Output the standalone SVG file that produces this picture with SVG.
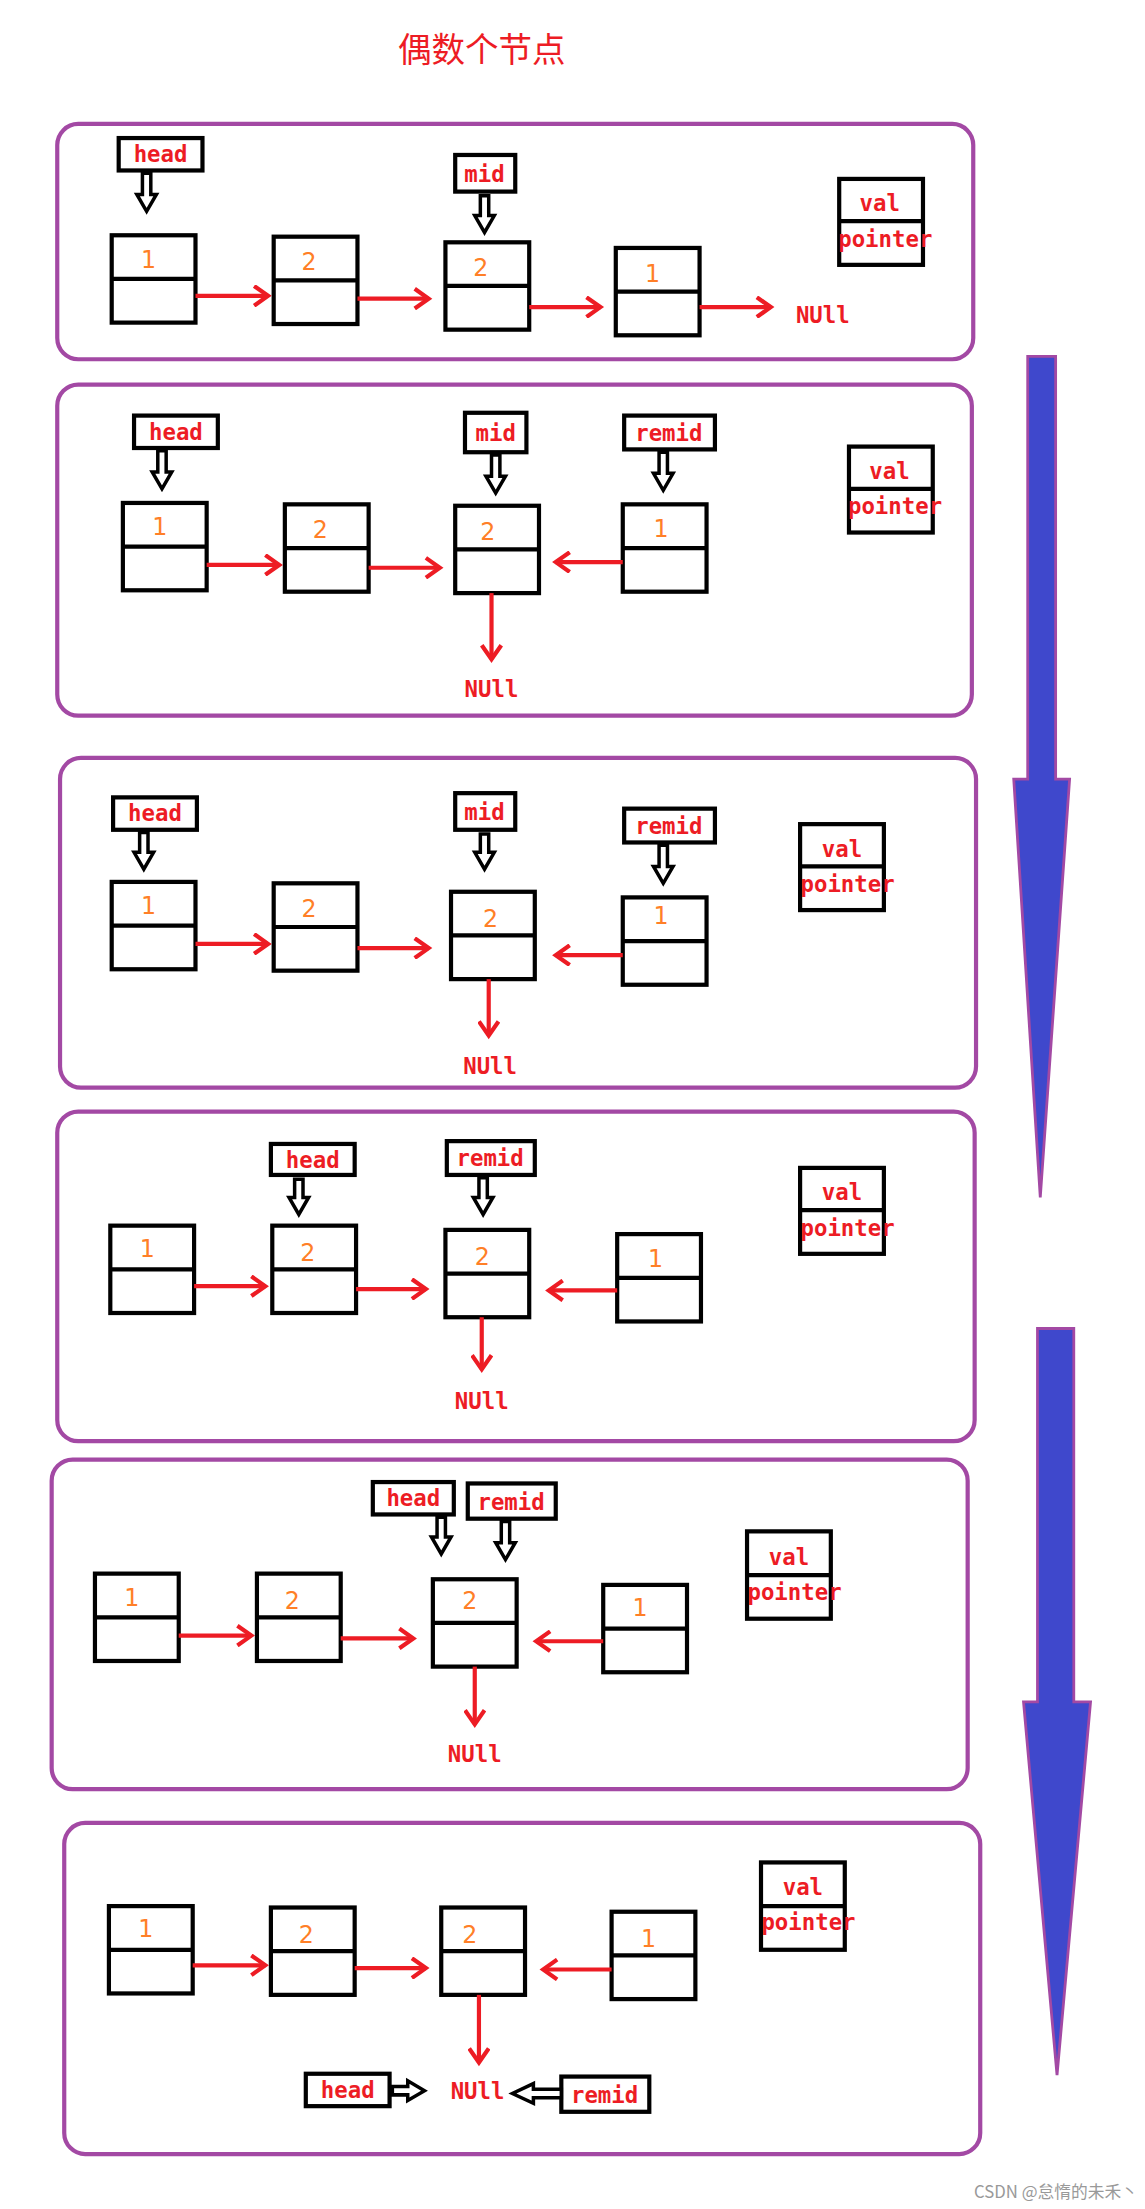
<svg xmlns="http://www.w3.org/2000/svg" width="1145" height="2209" viewBox="0 0 1145 2209">
<defs>
<marker id="ah" markerWidth="16" markerHeight="16" refX="13" refY="8" orient="auto" markerUnits="userSpaceOnUse"><path d="M3,1 L13,8 L3,15" fill="none" stroke="#ed1c24" stroke-width="3"/></marker>
<style>
.pn{fill:none;stroke:#a349a4;stroke-width:3}
.nd{fill:#fff;stroke:#000;stroke-width:3}
.dv{stroke:#000;stroke-width:3}
.lb{fill:#fff;stroke:#000;stroke-width:3}
.ra{stroke:#ed1c24;stroke-width:3;fill:none;marker-end:url(#ah)}
.ha{fill:#fff;stroke:#000;stroke-width:2.5}
.dg{fill:#ff7f27;font-family:"DejaVu Sans",sans-serif;font-size:17px}
.tx{fill:#ed1c24;font-family:"DejaVu Sans Mono",monospace;font-weight:bold;font-size:16px}
.bl{fill:#3f48cc;stroke:#a349a4;stroke-width:2}
</style>
</defs>
<rect width="1145" height="2209" fill="#fff"/>
<g transform="scale(1.39634,1.4088)">
<text x="345" y="44" text-anchor="middle" font-family="Noto Sans CJK SC,sans-serif" font-size="24" fill="#ed1c24">偶数个节点</text>
<g id="panels">
<rect class="pn" x="41" y="88" width="656" height="167" rx="15"/>
<rect class="pn" x="41" y="273" width="655" height="235" rx="15"/>
<rect class="pn" x="43" y="538" width="656" height="234" rx="15"/>
<rect class="pn" x="41" y="789" width="657" height="234" rx="15"/>
<rect class="pn" x="37" y="1036" width="656" height="234" rx="15"/>
<rect class="pn" x="46" y="1294" width="656" height="235" rx="15"/>
</g>
<g id="bigarrows">
<polygon class="bl" points="736,253 756,253 756,553 766,553 745,850 726,553 736,553"/>
<polygon class="bl" points="743,943 769,943 769,1208 781,1208 757,1473 733,1208 743,1208"/>
</g>
<g id="nodes">
<!-- P1 -->
<g id="p1n1"><rect class="nd" x="80" y="167" width="60" height="62"/><line class="dv" x1="80" y1="198" x2="140" y2="198"/><text class="dg" x="101" y="190">1</text></g>
<g id="p1n2"><rect class="nd" x="196" y="168" width="60" height="62"/><line class="dv" x1="196" y1="199" x2="256" y2="199"/><text class="dg" x="216" y="192">2</text></g>
<g id="p1n3"><rect class="nd" x="319" y="172" width="60" height="62"/><line class="dv" x1="319" y1="203" x2="379" y2="203"/><text class="dg" x="339" y="196">2</text></g>
<g id="p1n4"><rect class="nd" x="441" y="176" width="60" height="62"/><line class="dv" x1="441" y1="207" x2="501" y2="207"/><text class="dg" x="462" y="200">1</text></g>
<g id="p1leg"><rect class="nd" x="601" y="127" width="60" height="61"/><line class="dv" x1="601" y1="157" x2="661" y2="157"/><text class="tx" x="630" y="150" text-anchor="middle">val</text><text class="tx" x="634" y="175" text-anchor="middle">pointer</text></g>
<g id="p1head"><rect class="lb" x="85" y="98" width="60" height="23"/><text class="tx" x="115" y="115" text-anchor="middle">head</text></g>
<g id="p1mid"><rect class="lb" x="326" y="110" width="43" height="26"/><text class="tx" x="347" y="129" text-anchor="middle">mid</text></g>
<text class="tx" x="570" y="229">NUll</text>
<!-- P2 -->
<g id="p2n1"><rect class="nd" x="88" y="357" width="60" height="62"/><line class="dv" x1="88" y1="388" x2="148" y2="388"/><text class="dg" x="109" y="380">1</text></g>
<g id="p2n2"><rect class="nd" x="204" y="358" width="60" height="62"/><line class="dv" x1="204" y1="389" x2="264" y2="389"/><text class="dg" x="224" y="382">2</text></g>
<g id="p2n3"><rect class="nd" x="326" y="359" width="60" height="62"/><line class="dv" x1="326" y1="390" x2="386" y2="390"/><text class="dg" x="344" y="383">2</text></g>
<g id="p2n4"><rect class="nd" x="446" y="358" width="60" height="62"/><line class="dv" x1="446" y1="389" x2="506" y2="389"/><text class="dg" x="468" y="381">1</text></g>
<g id="p2leg"><rect class="nd" x="608" y="317" width="60" height="61"/><line class="dv" x1="608" y1="347" x2="668" y2="347"/><text class="tx" x="637" y="340" text-anchor="middle">val</text><text class="tx" x="641" y="365" text-anchor="middle">pointer</text></g>
<g id="p2head"><rect class="lb" x="96" y="295" width="60" height="23"/><text class="tx" x="126" y="312" text-anchor="middle">head</text></g>
<g id="p2mid"><rect class="lb" x="333" y="293" width="44" height="28"/><text class="tx" x="355" y="313" text-anchor="middle">mid</text></g>
<g id="p2remid"><rect class="lb" x="447" y="295" width="65" height="24"/><text class="tx" x="479" y="313" text-anchor="middle">remid</text></g>
<text class="tx" x="352" y="495" text-anchor="middle">NUll</text>
<!-- P3 -->
<g id="p3n1"><rect class="nd" x="80" y="626" width="60" height="62"/><line class="dv" x1="80" y1="657" x2="140" y2="657"/><text class="dg" x="101" y="649">1</text></g>
<g id="p3n2"><rect class="nd" x="196" y="627" width="60" height="62"/><line class="dv" x1="196" y1="658" x2="256" y2="658"/><text class="dg" x="216" y="651">2</text></g>
<g id="p3n3"><rect class="nd" x="323" y="633" width="60" height="62"/><line class="dv" x1="323" y1="664" x2="383" y2="664"/><text class="dg" x="346" y="658">2</text></g>
<g id="p3n4"><rect class="nd" x="446" y="637" width="60" height="62"/><line class="dv" x1="446" y1="668" x2="506" y2="668"/><text class="dg" x="468" y="656">1</text></g>
<g id="p3leg"><rect class="nd" x="573" y="585" width="60" height="61"/><line class="dv" x1="573" y1="615" x2="633" y2="615"/><text class="tx" x="603" y="608" text-anchor="middle">val</text><text class="tx" x="607" y="633" text-anchor="middle">pointer</text></g>
<g id="p3head"><rect class="lb" x="81" y="566" width="60" height="23"/><text class="tx" x="111" y="583" text-anchor="middle">head</text></g>
<g id="p3mid"><rect class="lb" x="326" y="563" width="43" height="26"/><text class="tx" x="347" y="582" text-anchor="middle">mid</text></g>
<g id="p3remid"><rect class="lb" x="447" y="574" width="65" height="24"/><text class="tx" x="479" y="592" text-anchor="middle">remid</text></g>
<text class="tx" x="351" y="762" text-anchor="middle">NUll</text>
<!-- P4 -->
<g id="p4n1"><rect class="nd" x="79" y="870" width="60" height="62"/><line class="dv" x1="79" y1="901" x2="139" y2="901"/><text class="dg" x="100" y="892">1</text></g>
<g id="p4n2"><rect class="nd" x="195" y="870" width="60" height="62"/><line class="dv" x1="195" y1="901" x2="255" y2="901"/><text class="dg" x="215" y="895">2</text></g>
<g id="p4n3"><rect class="nd" x="319" y="873" width="60" height="62"/><line class="dv" x1="319" y1="904" x2="379" y2="904"/><text class="dg" x="340" y="898">2</text></g>
<g id="p4n4"><rect class="nd" x="442" y="876" width="60" height="62"/><line class="dv" x1="442" y1="907" x2="502" y2="907"/><text class="dg" x="464" y="899">1</text></g>
<g id="p4leg"><rect class="nd" x="573" y="829" width="60" height="61"/><line class="dv" x1="573" y1="859" x2="633" y2="859"/><text class="tx" x="603" y="852" text-anchor="middle">val</text><text class="tx" x="607" y="877" text-anchor="middle">pointer</text></g>
<g id="p4head"><rect class="lb" x="194" y="812" width="60" height="22"/><text class="tx" x="224" y="829" text-anchor="middle">head</text></g>
<g id="p4remid"><rect class="lb" x="320" y="810" width="63" height="24"/><text class="tx" x="351" y="828" text-anchor="middle">remid</text></g>
<text class="tx" x="345" y="1000" text-anchor="middle">NUll</text>
<!-- P5 -->
<g id="p5n1"><rect class="nd" x="68" y="1117" width="60" height="62"/><line class="dv" x1="68" y1="1148" x2="128" y2="1148"/><text class="dg" x="89" y="1140">1</text></g>
<g id="p5n2"><rect class="nd" x="184" y="1117" width="60" height="62"/><line class="dv" x1="184" y1="1148" x2="244" y2="1148"/><text class="dg" x="204" y="1142">2</text></g>
<g id="p5n3"><rect class="nd" x="310" y="1121" width="60" height="62"/><line class="dv" x1="310" y1="1152" x2="370" y2="1152"/><text class="dg" x="331" y="1142">2</text></g>
<g id="p5n4"><rect class="nd" x="432" y="1125" width="60" height="62"/><line class="dv" x1="432" y1="1156" x2="492" y2="1156"/><text class="dg" x="453" y="1147">1</text></g>
<g id="p5leg"><rect class="nd" x="535" y="1087" width="60" height="62"/><line class="dv" x1="535" y1="1118" x2="595" y2="1118"/><text class="tx" x="565" y="1111" text-anchor="middle">val</text><text class="tx" x="569" y="1136" text-anchor="middle">pointer</text></g>
<g id="p5head"><rect class="lb" x="267" y="1052" width="58" height="23"/><text class="tx" x="296" y="1069" text-anchor="middle">head</text></g>
<g id="p5remid"><rect class="lb" x="335" y="1053" width="63" height="25"/><text class="tx" x="366" y="1072" text-anchor="middle">remid</text></g>
<text class="tx" x="340" y="1251" text-anchor="middle">NUll</text>
<!-- P6 -->
<g id="p6n1"><rect class="nd" x="78" y="1353" width="60" height="62"/><line class="dv" x1="78" y1="1384" x2="138" y2="1384"/><text class="dg" x="99" y="1375">1</text></g>
<g id="p6n2"><rect class="nd" x="194" y="1354" width="60" height="62"/><line class="dv" x1="194" y1="1385" x2="254" y2="1385"/><text class="dg" x="214" y="1379">2</text></g>
<g id="p6n3"><rect class="nd" x="316" y="1354" width="60" height="62"/><line class="dv" x1="316" y1="1385" x2="376" y2="1385"/><text class="dg" x="331" y="1379">2</text></g>
<g id="p6n4"><rect class="nd" x="438" y="1357" width="60" height="62"/><line class="dv" x1="438" y1="1388" x2="498" y2="1388"/><text class="dg" x="459" y="1382">1</text></g>
<g id="p6leg"><rect class="nd" x="545" y="1322" width="60" height="62"/><line class="dv" x1="545" y1="1353" x2="605" y2="1353"/><text class="tx" x="575" y="1345" text-anchor="middle">val</text><text class="tx" x="579" y="1370" text-anchor="middle">pointer</text></g>
<g id="p6head"><rect class="lb" x="219" y="1472" width="60" height="23"/><text class="tx" x="249" y="1489" text-anchor="middle">head</text></g>
<g id="p6remid"><rect class="lb" x="402" y="1474" width="63" height="25"/><text class="tx" x="433" y="1493" text-anchor="middle">remid</text></g>
<text class="tx" x="342" y="1490" text-anchor="middle">NUll</text>
</g>
<g id="connectors">
<line class="ra" x1="140" y1="210" x2="192" y2="210"/>
<line class="ra" x1="256" y1="212" x2="307" y2="212"/>
<line class="ra" x1="379" y1="218" x2="430" y2="218"/>
<line class="ra" x1="501" y1="218" x2="552" y2="218"/>
<line class="ra" x1="148" y1="401" x2="200" y2="401"/>
<line class="ra" x1="264" y1="403" x2="315" y2="403"/>
<line class="ra" x1="446" y1="399" x2="398" y2="399"/>
<line class="ra" x1="352" y1="421" x2="352" y2="468"/>
<line class="ra" x1="140" y1="670" x2="192" y2="670"/>
<line class="ra" x1="256" y1="673" x2="307" y2="673"/>
<line class="ra" x1="446" y1="678" x2="398" y2="678"/>
<line class="ra" x1="350" y1="695" x2="350" y2="735"/>
<line class="ra" x1="139" y1="913" x2="190" y2="913"/>
<line class="ra" x1="255" y1="915" x2="305" y2="915"/>
<line class="ra" x1="442" y1="916" x2="393" y2="916"/>
<line class="ra" x1="345" y1="935" x2="345" y2="972"/>
<line class="ra" x1="128" y1="1161" x2="180" y2="1161"/>
<line class="ra" x1="244" y1="1163" x2="296" y2="1163"/>
<line class="ra" x1="432" y1="1165" x2="384" y2="1165"/>
<line class="ra" x1="340" y1="1183" x2="340" y2="1224"/>
<line class="ra" x1="138" y1="1395" x2="190" y2="1395"/>
<line class="ra" x1="254" y1="1397" x2="305" y2="1397"/>
<line class="ra" x1="438" y1="1398" x2="389" y2="1398"/>
<line class="ra" x1="343" y1="1416" x2="343" y2="1464"/>
<polygon class="ha" points="102,123 108,123 108,138 112,138 105,150 98,138 102,138"/>
<polygon class="ha" points="344,139 350,139 350,153 354,153 347,165 340,153 344,153"/>
<polygon class="ha" points="113,320 119,320 119,335 123,335 116,347 109,335 113,335"/>
<polygon class="ha" points="352,323 358,323 358,338 362,338 355,350 348,338 352,338"/>
<polygon class="ha" points="472,321 478,321 478,336 482,336 475,348 468,336 472,336"/>
<polygon class="ha" points="100,591 106,591 106,605 110,605 103,617 96,605 100,605"/>
<polygon class="ha" points="344,592 350,592 350,605 354,605 347,617 340,605 344,605"/>
<polygon class="ha" points="472,600 478,600 478,615 482,615 475,627 468,615 472,615"/>
<polygon class="ha" points="211,837 217,837 217,850 221,850 214,862 207,850 211,850"/>
<polygon class="ha" points="343,836 349,836 349,850 353,850 346,862 339,850 343,850"/>
<polygon class="ha" points="313,1077 319,1077 319,1091 323,1091 316,1103 309,1091 313,1091"/>
<polygon class="ha" points="359,1080 365,1080 365,1095 369,1095 362,1107 355,1095 359,1095"/>
<polygon class="ha" points="281,1481 292,1481 292,1477 304,1484 292,1491 292,1487 281,1487"/>
<polygon class="ha" points="402,1483 382,1483 382,1479 367,1486 382,1493 382,1489 402,1489"/>
</g>
<text x="815" y="1560" text-anchor="end" font-family="Noto Sans CJK SC,sans-serif" font-size="12" fill="#999">CSDN @怠惰的未禾丶</text>
</g>
</svg>
